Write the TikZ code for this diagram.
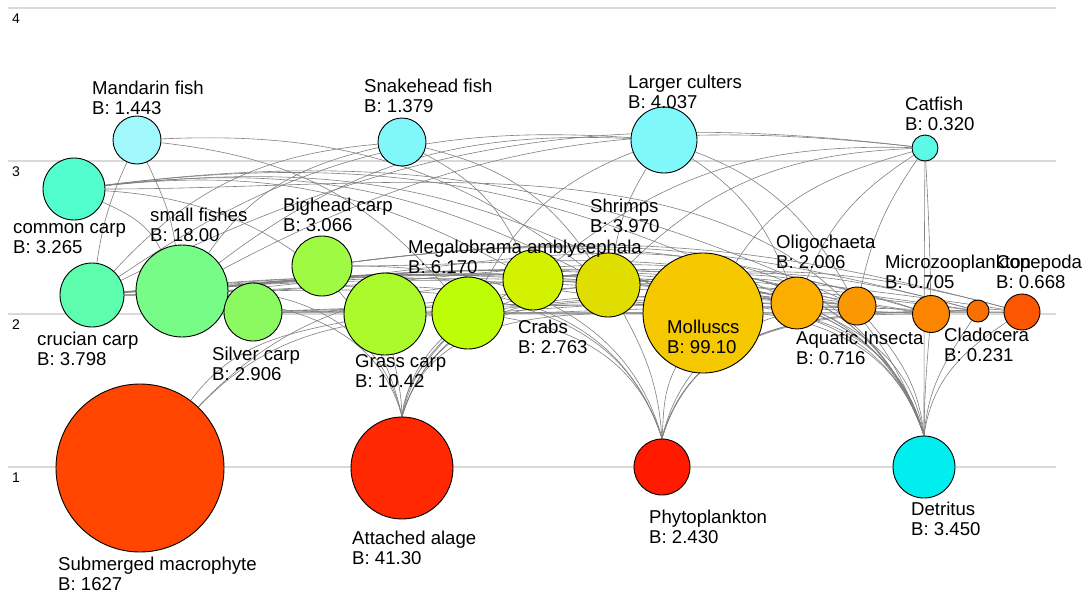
\documentclass[tikz,border=0pt]{standalone}
\usepackage{fontspec}
\setmainfont{Liberation Sans}
\pgfdeclarelayer{back}
\pgfdeclarelayer{bg}
\pgfsetlayers{back,bg,main}
\definecolor{cMand}{HTML}{A0F8FC}
\definecolor{cSnake}{HTML}{80F8FA}
\definecolor{cCult}{HTML}{80F8FA}
\definecolor{cCat}{HTML}{5CF9E6}
\definecolor{cCcarp}{HTML}{52FDCE}
\definecolor{cCruc}{HTML}{5DFFAE}
\definecolor{cSmall}{HTML}{77FD87}
\definecolor{cSilv}{HTML}{8BFA61}
\definecolor{cBigh}{HTML}{9EFA42}
\definecolor{cGrass}{HTML}{ABFA2C}
\definecolor{cMega}{HTML}{BDFD05}
\definecolor{cCrab}{HTML}{D2F200}
\definecolor{cShri}{HTML}{E0DD00}
\definecolor{cMoll}{HTML}{F5C800}
\definecolor{cOlig}{HTML}{FBAD00}
\definecolor{cAqua}{HTML}{FB9700}
\definecolor{cMicr}{HTML}{FB8400}
\definecolor{cClad}{HTML}{F97000}
\definecolor{cCope}{HTML}{FD5600}
\definecolor{cSubm}{HTML}{FF4500}
\definecolor{cAtta}{HTML}{FF2800}
\definecolor{cPhyt}{HTML}{FF1A00}
\definecolor{cDetr}{HTML}{00EEEE}
\definecolor{cGrid}{HTML}{D9D9D9}
\definecolor{cEdge}{HTML}{808080}
\newcommand\twol[2]{\begin{tabular}[t]{@{}l@{}}#1\\#2\end{tabular}}
% edge from a prey (#1) to a predator (#2), prey not on level 1
\newcommand\fw[2]{%
  \path (#1.center); \pgfgetlastxy{\fwax}{\fway}%
  \path (#2.center); \pgfgetlastxy{\fwbx}{\fwby}%
  \pgfmathsetmacro\fwth{mod(atan2(\fwby-\fway,\fwbx-\fwax)+450,360)-90}%
  \pgfmathsetmacro\fwdl{(90-\fwth)*0.5*sqrt(abs(sin(\fwth)))}%
  \pgfmathsetmacro\fwoa{\fwth+\fwdl}%
  \pgfmathsetmacro\fwia{\fwth+180-\fwdl}%
  \draw[edge] (#1) to[out=\fwoa,in=\fwia] (#2);}
% edge from a level-1 prey (#1), leaving its top
\newcommand\fb[2]{%
  \path (#1.center); \pgfgetlastxy{\fwax}{\fway}%
  \path (#2.center); \pgfgetlastxy{\fwbx}{\fwby}%
  \pgfmathsetmacro\fwth{mod(atan2(\fwby-\fway,\fwbx-\fwax)+450,360)-90}%
  \pgfmathsetmacro\fwoa{90-(90-\fwth)*0.25}%
  \pgfmathsetmacro\fwib{\fwth+180-(90-\fwth)*0.75}%
  \pgfmathsetmacro\fwia{\fwth>90 ? min(\fwib,360) : max(\fwib,180)}%
  \draw[edge] (#1.north) to[out=\fwoa,in=\fwia] (#2);}
\tikzset{
  sp/.style={circle, draw=black, line width=0.9pt, inner sep=0pt, minimum size=#1},
  lab/.style={anchor=base west, inner sep=0pt, font=\fontsize{18.6}{20}\selectfont},
  lvl/.style={anchor=base west, inner sep=0pt, font=\fontsize{14}{16}\selectfont},
  gridl/.style={draw=cGrid, line width=1.4pt},
  edge/.style={draw=cEdge, line width=0.6pt},
}
\begin{document}
\begin{tikzpicture}[x=1pt,y=1pt]
\useasboundingbox (0,0) rectangle (1084,-592);
\begin{pgfonlayer}{back}
\fill[white] (0,0) rectangle (1084,-592);
\end{pgfonlayer}
% species
\node[sp=48, fill=cMand]  (mand)    at (137,-140) {};
\node[sp=48, fill=cSnake] (snake)   at (402,-142) {};
\node[sp=66, fill=cCult]  (cult)    at (664,-140) {};
\node[sp=26, fill=cCat]   (cat)     at (925,-148) {};
\node[sp=62, fill=cCcarp] (ccarp)   at (74,-189) {};
\node[sp=64, fill=cCruc]  (cruc)    at (92,-295) {};
\node[sp=92, fill=cSmall] (small)   at (182,-291) {};
\node[sp=58, fill=cSilv]  (silv)    at (253,-312) {};
\node[sp=60, fill=cBigh]  (bigh)    at (322,-266) {};
\node[sp=82, fill=cGrass] (grass)   at (385,-314) {};
\node[sp=72, fill=cMega]  (mega)    at (468,-313) {};
\node[sp=60, fill=cCrab]  (crab)    at (533,-280) {};
\node[sp=64, fill=cShri]  (shri)    at (608,-285) {};
\node[sp=120, fill=cMoll] (moll)    at (703,-313) {};
\node[sp=52, fill=cOlig]  (olig)    at (797,-303) {};
\node[sp=38, fill=cAqua]  (aqua)    at (857,-306) {};
\node[sp=37, fill=cMicr]  (micr)    at (931,-314) {};
\node[sp=22, fill=cClad]  (clad)    at (978,-311) {};
\node[sp=36, fill=cCope]  (cope)    at (1022,-312) {};
\node[sp=168, fill=cSubm] (subm)    at (140,-468) {};
\node[sp=102, fill=cAtta] (atta)    at (402,-468) {};
\node[sp=56, fill=cPhyt]  (phyt)    at (662,-467) {};
\node[sp=62, fill=cDetr]  (detr)    at (924,-467) {};
% labels
\node[lab] (tmand)  at (92,-94)   {\twol{Mandarin fish}{B: 1.443}};
\node[lab] (tsnake) at (364,-92)  {\twol{Snakehead fish}{B: 1.379}};
\node[lab] (tcult)  at (628,-88)  {\twol{Larger culters}{B: 4.037}};
\node[lab] (tcat)   at (905,-110) {\twol{Catfish}{B: 0.320}};
\node[lab] (tccarp) at (13,-233)  {\twol{common carp}{B: 3.265}};
\node[lab] (tsmall) at (150,-221) {\twol{small fishes}{B: 18.00}};
\node[lab] (tbigh)  at (283,-211) {\twol{Bighead carp}{B: 3.066}};
\node[lab] (tshri)  at (590,-212) {\twol{Shrimps}{B: 3.970}};
\node[lab] (tmega)  at (408,-253) {\twol{Megalobrama amblycephala}{B: 6.170}};
\node[lab] (tolig)  at (776,-248) {\twol{Oligochaeta}{B: 2.006}};
\node[lab] (tmicr)  at (885,-268) {\twol{Microzooplankton}{B: 0.705}};
\node[lab] (tcope)  at (996,-268) {\twol{Copepoda}{B: 0.668}};
\node[lab] (tcruc)  at (37,-345)  {\twol{crucian carp}{B: 3.798}};
\node[lab] (tsilv)  at (212,-360) {\twol{Silver carp}{B: 2.906}};
\node[lab] (tgrass) at (355,-367) {\twol{Grass carp}{B: 10.42}};
\node[lab] (tcrab)  at (518,-333) {\twol{Crabs}{B: 2.763}};
\node[lab] (tmoll)  at (667,-333) {\twol{Molluscs}{B: 99.10}};
\node[lab] (taqua)  at (796,-344) {\twol{Aquatic Insecta}{B: 0.716}};
\node[lab] (tclad)  at (944,-341) {\twol{Cladocera}{B: 0.231}};
\node[lab] (tsubm)  at (58,-570)  {\twol{Submerged macrophyte}{B: 1627}};
\node[lab] (tatta)  at (352,-544) {\twol{Attached alage}{B: 41.30}};
\node[lab] (tphyt)  at (649,-523) {\twol{Phytoplankton}{B: 2.430}};
\node[lab] (tdetr)  at (911,-515) {\twol{Detritus}{B: 3.450}};
% level numbers
\node[lvl] (l4) at (12,-23)  {4};
\node[lvl] (l3) at (12,-176) {3};
\node[lvl] (l2) at (12,-329) {2};
\node[lvl] (l1) at (12,-482) {1};
\begin{pgfonlayer}{bg}
\coordinate (g4a) at (8,-8);   \coordinate (g4b) at (1056,-8);
\coordinate (g3a) at (8,-161); \coordinate (g3b) at (1056,-161);
\coordinate (g2a) at (8,-314); \coordinate (g2b) at (1056,-314);
\coordinate (g1a) at (8,-467); \coordinate (g1b) at (1056,-467);
\draw[gridl] (g4a) -- (g4b);
\draw[gridl] (g3a) -- (g3b);
\draw[gridl] (g2a) -- (g2b);
\draw[gridl] (g1a) -- (g1b);
% top predators
\fw{small}{mand} \fw{cruc}{mand} \fw{shri}{mand} \fw{mega}{mand}
\fw{small}{snake} \fw{cruc}{snake} \fw{shri}{snake} \fw{crab}{snake}
\fw{small}{cult} \fw{cruc}{cult} \fw{shri}{cult} \fw{mega}{cult} \fw{aqua}{cult} \fw{olig}{cult}
\fw{small}{cat} \fw{cruc}{cat} \fw{shri}{cat} \fw{crab}{cat} \fw{moll}{cat} \fw{olig}{cat} \fw{aqua}{cat} \fw{micr}{cat}
\fb{detr}{cat}
% middle
\fw{small}{ccarp} \fw{moll}{ccarp} \fw{olig}{ccarp} \fw{aqua}{ccarp} \fw{shri}{ccarp} \fw{crab}{ccarp}
\fb{detr}{ccarp} \fb{atta}{ccarp}
\fw{moll}{cruc} \fw{aqua}{cruc} \fw{olig}{cruc} \fw{micr}{cruc} \fw{clad}{cruc}
\fb{detr}{cruc} \fb{atta}{cruc} \fb{phyt}{cruc}
\fw{micr}{small} \fw{clad}{small} \fw{cope}{small} \fw{aqua}{small} \fw{olig}{small} \fw{shri}{small}
\fb{phyt}{small} \fb{detr}{small} \fb{atta}{small}
\fw{micr}{bigh} \fw{clad}{bigh} \fw{cope}{bigh} \fb{phyt}{bigh} \fb{detr}{bigh}
\fw{micr}{silv} \fw{clad}{silv} \fw{cope}{silv} \fb{phyt}{silv} \fb{detr}{silv}
\fw{subm}{grass} \fb{atta}{grass} \fb{detr}{grass}
\fw{subm}{mega} \fb{atta}{mega} \fb{detr}{mega} \fw{moll}{mega} \fw{aqua}{mega}
\fb{atta}{crab} \fb{detr}{crab} \fw{moll}{crab} \fw{olig}{crab} \fw{aqua}{crab} \fw{subm}{crab}
\fb{atta}{shri} \fb{phyt}{shri} \fb{detr}{shri} \fw{micr}{shri} \fw{clad}{shri} \fw{cope}{shri}
\fb{atta}{moll} \fb{phyt}{moll} \fb{detr}{moll}
\fb{detr}{olig} \fb{atta}{olig}
\fb{detr}{aqua} \fb{atta}{aqua} \fb{phyt}{aqua}
\fb{phyt}{micr} \fb{detr}{micr}
\fb{phyt}{clad} \fb{detr}{clad}
\fb{phyt}{cope} \fb{detr}{cope} \fw{micr}{cope}
\end{pgfonlayer}
\end{tikzpicture}
\end{document}
